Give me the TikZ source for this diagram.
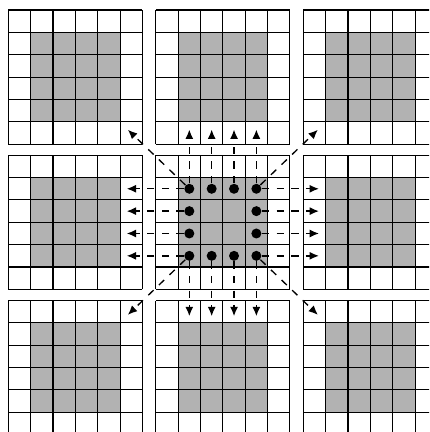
\documentclass[tikz,border=0pt]{standalone}
\usetikzlibrary{arrows.meta}
\definecolor{interiorgray}{gray}{0.7}
\tikzset{
    halodot/.style={circle, fill=black, inner sep=0pt, minimum size=7.5pt},
    sendline/.style={line width=1pt, dash pattern=on 5.5pt off 5.5pt,
        -{Latex[length=7pt,width=6pt]}}
}
\begin{document}
\begin{tikzpicture}[x=16.76pt, y=16.76pt, line width=0.8pt]
% Parameters
\def\gridsize{6}
\def\dx{6.6}
\def\dy{6.5}

% Picture frame (outer blocks are cut off at the right and bottom)
\useasboundingbox (-0.371,6.447) rectangle (18.824,-12.882);
\clip (-0.371,6.447) rectangle (18.824,-12.882);

% Blocks in a 3x3 layout
\foreach \i in {0,1,2} {
    \foreach \j in {0,1,2} {
        \begin{scope}[shift={(\i*\dx,-\j*\dy)}]
            % Draw interior cells
            \fill[interiorgray] (1,1) rectangle (5,5);
            % Draw cell grid
            \draw[step=1] (0,0) grid (\gridsize,\gridsize);
        \end{scope}
    }
}

% Centre block: boundary cells and where they are sent
\begin{scope}[shift={(\dx,-\dy)}]
    % Boundary dots
    \foreach \c/\r in {1/1,2/1,3/1,4/1,1/2,4/2,1/3,4/3,1/4,2/4,3/4,4/4} {
        \node[halodot] (d\c\r) at (\c+0.5,\r+0.5) {};
    }

    % Targets in the ghost cells of the neighbours
    \foreach \k in {1,...,4} {
        \coordinate (up\k) at (\k+0.5,7.15);
        \coordinate (dn\k) at (\k+0.5,-1.2);
        \coordinate (lt\k) at (-1.3,\k+0.5);
        \coordinate (rt\k) at (7.3,\k+0.5);
    }
    \coordinate (nw) at (-1.25,7.14);
    \coordinate (ne) at (7.25,7.14);
    \coordinate (sw) at (-1.25,-1.14);
    \coordinate (se) at (7.25,-1.14);

    % Edge arrows
    \foreach \k in {1,...,4} {
        \draw[sendline] (d\k4) -- (up\k);
        \draw[sendline] (d\k1) -- (dn\k);
        \draw[sendline] (d1\k) -- (lt\k);
        \draw[sendline] (d4\k) -- (rt\k);
    }

    % Corner arrows
    \draw[sendline] (d14) -- (nw);
    \draw[sendline] (d44) -- (ne);
    \draw[sendline] (d11) -- (sw);
    \draw[sendline] (d41) -- (se);
\end{scope}
\end{tikzpicture}
\end{document}
